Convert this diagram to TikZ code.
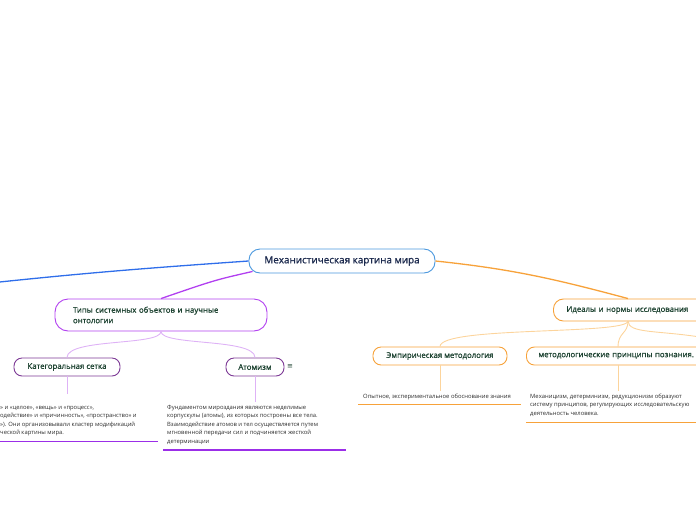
\documentclass[tikz,border=0pt]{standalone}
\usepackage{fontspec}
\setmainfont{Open Sans}
\newfontfamily\semifont{Open Sans}[FakeBold=0.9]
\newfontfamily\symfont{DejaVu Sans}
\usetikzlibrary{calc}
\definecolor{rootblue}{RGB}{74,152,222}
\definecolor{branchblue}{RGB}{47,110,234}
\definecolor{branchviolet}{RGB}{178,64,240}
\definecolor{childviolet}{RGB}{125,58,150}
\definecolor{lightviolet}{RGB}{222,178,246}
\definecolor{lineviolet}{RGB}{155,46,232}
\definecolor{branchorange}{RGB}{247,162,58}
\definecolor{lightorange}{RGB}{252,212,156}
\definecolor{navytext}{RGB}{28,42,78}
\definecolor{greentext}{RGB}{28,66,48}
\definecolor{notetext}{RGB}{45,45,45}

\begin{document}
\begin{tikzpicture}[x=1pt, y=-1pt,
  rootbox/.style={draw=rootblue, line width=0.9pt, rounded corners=11pt,
    fill=white, text=navytext, minimum height=24pt, inner sep=0pt,
    font=\semifont\fontsize{9.9}{11}\selectfont},
  topicbox/.style={draw, line width=0.9pt, fill=white, text=greentext,
    inner sep=0pt, font=\semifont\fontsize{7.8}{10.5}\selectfont},
  subbox/.style={topicbox, rounded corners=8pt, minimum height=18pt},
  note/.style={anchor=north west, inner sep=0pt, align=left, text=notetext,
    font=\fontsize{5.85}{8.5}\selectfont},
  link/.style={line width=1.3pt},
  twig/.style={line width=0.9pt}
]
  \useasboundingbox (0,0) rectangle (696,520);

  % ---- Root ----
  \node[rootbox, minimum width=186pt] (root) at (342,261)
    {Механистическая картина мира};

  % ---- Left: off-page branch ----
  \coordinate (offleft) at (-10,283);
  \draw[link, branchblue] (root.west) to[out=184, in=6] (offleft);

  % ---- Violet branch ----
  \node[topicbox, draw=branchviolet, rounded corners=13pt, minimum width=212pt,
        minimum height=32pt, text width=176pt, align=left] (types) at (161,315)
    {Типы системных объектов и научные\\онтологии};
  \draw[link, branchviolet] ($(root.south west)+(4,-2)$)
    .. controls (215,280) .. (types.north);

  \node[subbox, draw=childviolet, minimum width=106pt] (grid) at (67,367)
    {Категоральная сетка};
  \node[subbox, draw=childviolet, minimum width=58pt] (atom) at (255,367)
    {Атомизм};
  \node[text=greentext, inner sep=0pt, font=\symfont\fontsize{7}{8}\selectfont]
    (atomicon) at (290,367) {≡};

  \draw[twig, lightviolet] (types.south)
    .. controls (161,346) and (67,338) .. (grid.north);
  \draw[twig, lightviolet] (types.south)
    .. controls (161,346) and (255,338) .. (atom.north);

  % notes under the violet children
  \coordinate (gridend) at (67,394);
  \coordinate (atomend) at (255,402);
  \draw[twig, lightviolet] (grid.south) -- (gridend);
  \draw[twig, lightviolet] (atom.south) -- (atomend);

  \node[note] (gridnote) at (0,406)
    {» и «целое», «вещь» и «процесс»,\\
     одействие» и «причинность», «пространство» и\\
     »). Они организовывали кластер модификаций\\
     ческой картины мира.};
  \node[note] (atomnote) at (167,405)
    {Фундаментом мироздания являются неделимые\\
     корпускулы (атомы), из которых построены все тела.\\
     Взаимодействие атомов и тел осуществляется путем\\
     мгновенной передачи сил и подчиняется жесткой\\
     детерминации};
  \draw[link, lineviolet] (0,441.5) -- (158,441.5);
  \draw[link, lineviolet] (163,450) -- (346,450);

  % ---- Orange branch ----
  \node[topicbox, draw=branchorange, rounded corners=10pt, inner xsep=13pt,
        minimum height=22pt, text width=153pt, align=left, anchor=west]
    (ideals) at (553,310) {Идеалы и нормы исследования};
  \draw[link, branchorange] (root.east) to[out=-6, in=165] ($(ideals.north west)+(75,0)$);

  \node[subbox, draw=branchorange, minimum width=134pt] (empir) at (440,356)
    {Эмпирическая методология};
  \node[subbox, draw=branchorange, inner xsep=12pt, text width=180pt,
        align=left, anchor=west] (method) at (526,356)
    {методологические принципы познания.};
  \coordinate (idealsfoot) at (628,321);
  \coordinate (methodtop) at (618,347);
  \coordinate (offright) at (706,338);

  \draw[twig, lightorange] (idealsfoot)
    .. controls (628,335) and (440,326) .. (empir.north);
  \draw[twig, lightorange] (idealsfoot)
    .. controls (628,334) and (618,332) .. (methodtop);
  \draw[twig, lightorange] (idealsfoot)
    .. controls (628,334) and (660,330) .. (offright);

  % notes under the orange children
  \coordinate (empirend) at (440,391);
  \coordinate (methodend) at (618,391);
  \draw[twig, lightorange] (empir.south) -- (empirend);
  \draw[twig, lightorange] (methodtop |- method.south) -- (methodend);

  \node[note] (empirnote) at (363,393.5)
    {Опытное, экспериментальное обоснование знания};
  \node[note] (methodnote) at (530,393.5)
    {Механицизм, детерминизм, редукционизм образуют\\
     систему принципов, регулирующих исследовательскую\\
     деятельность человека.};
  \draw[link, branchorange] (358,404.5) -- (521,404.5);
  \draw[link, branchorange] (526,422.5) -- (700,422.5);
\end{tikzpicture}
\end{document}
